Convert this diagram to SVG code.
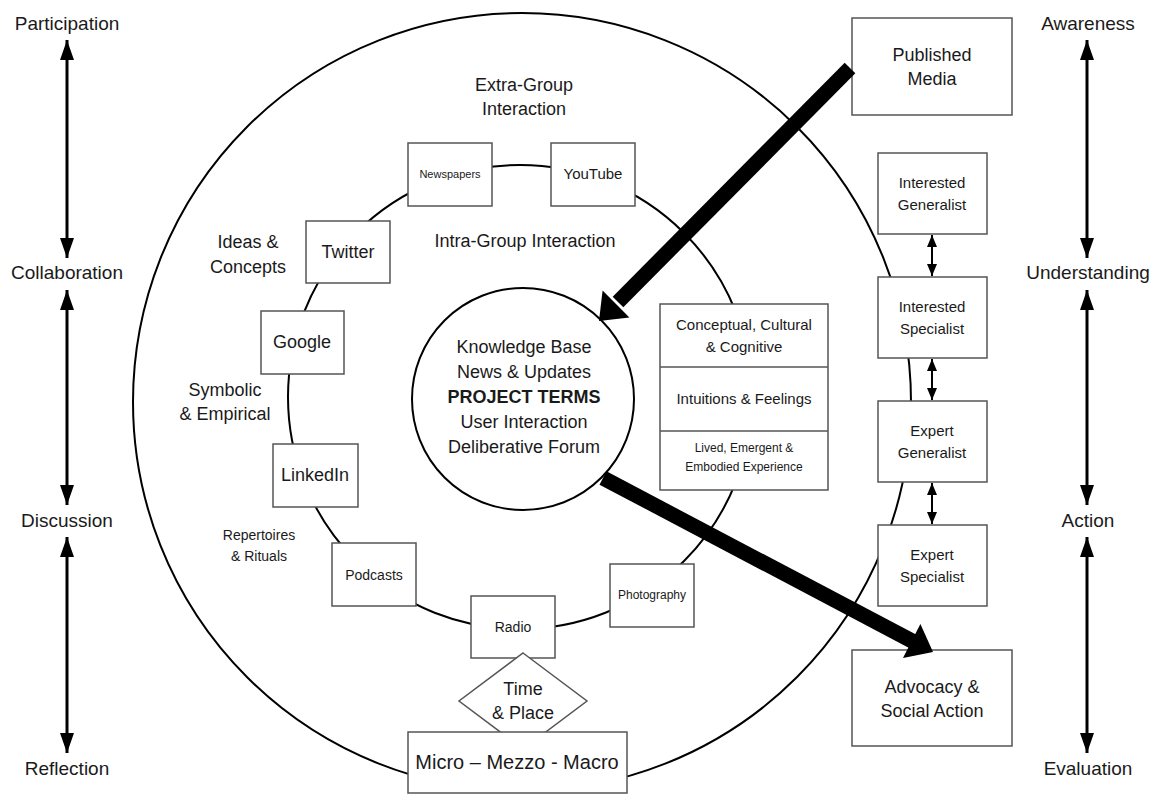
<svg xmlns="http://www.w3.org/2000/svg" width="1158" height="794" viewBox="0 0 1158 794">
<style>
text{font-family:"Liberation Sans",Arial,sans-serif;fill:#1a1a1a;text-anchor:middle}
.box{fill:#fff;stroke:#555;stroke-width:1.5}
.ring{fill:none;stroke:#000;stroke-width:2}
.axis{stroke:#000;stroke-width:3;fill:none}
.sm{stroke:#000;stroke-width:2;fill:none}
.big{stroke:#000;stroke-width:15;fill:none}
.f19{font-size:19px}.f18{font-size:18px}.f15{font-size:15px}.f14{font-size:14px}.f12{font-size:12px}.f11{font-size:11px}
</style>
<defs>
<marker id="ah" viewBox="0 0 20 14" refX="20" refY="7" markerWidth="20" markerHeight="14" markerUnits="userSpaceOnUse" orient="auto-start-reverse"><path d="M0,0L20,7L0,14z" fill="#000"/></marker>
<marker id="as" viewBox="0 0 12 10" refX="12" refY="5" markerWidth="12" markerHeight="10" markerUnits="userSpaceOnUse" orient="auto-start-reverse"><path d="M0,0L12,5L0,10z" fill="#000"/></marker>
</defs>
<rect width="1158" height="794" fill="#fff"/>
<g id="rings">
<circle class="ring" cx="522" cy="402" r="389"/>
<circle class="ring" cx="520" cy="397" r="232"/>
</g>
<g id="labels">
<text class="f19" x="67" y="30">Participation</text>
<text class="f19" x="67" y="279">Collaboration</text>
<text class="f19" x="67" y="527">Discussion</text>
<text class="f19" x="67" y="775">Reflection</text>
<text class="f19" x="1088" y="30">Awareness</text>
<text class="f19" x="1088" y="279">Understanding</text>
<text class="f19" x="1088" y="527">Action</text>
<text class="f19" x="1088" y="775">Evaluation</text>
<text class="f18" x="524" y="91">Extra-Group</text>
<text class="f18" x="524" y="115">Interaction</text>
<text class="f18" x="525" y="247">Intra-Group Interaction</text>
<text class="f18" x="248" y="248">Ideas &amp;</text>
<text class="f18" x="248" y="273">Concepts</text>
<text class="f18" x="225" y="396">Symbolic</text>
<text class="f18" x="225" y="420">&amp; Empirical</text>
<text class="f14" x="259" y="540">Repertoires</text>
<text class="f14" x="259" y="561">&amp; Rituals</text>
</g>
<g id="connectors">
<path class="axis" d="M67,40V258" marker-start="url(#ah)" marker-end="url(#ah)"/>
<path class="axis" d="M67,290V505" marker-start="url(#ah)" marker-end="url(#ah)"/>
<path class="axis" d="M67,537V753" marker-start="url(#ah)" marker-end="url(#ah)"/>
<path class="axis" d="M1087,40V258" marker-start="url(#ah)" marker-end="url(#ah)"/>
<path class="axis" d="M1087,290V505" marker-start="url(#ah)" marker-end="url(#ah)"/>
<path class="axis" d="M1087,537V753" marker-start="url(#ah)" marker-end="url(#ah)"/>
<path class="sm" d="M932,235V276" marker-start="url(#as)" marker-end="url(#as)"/>
<path class="sm" d="M932,359V400" marker-start="url(#as)" marker-end="url(#as)"/>
<path class="sm" d="M932,483V524" marker-start="url(#as)" marker-end="url(#as)"/>
</g>
<g id="center">
<circle cx="523" cy="399" r="111" fill="#fff" stroke="#000" stroke-width="2"/>
<text class="f18" x="524" y="353">Knowledge Base</text>
<text class="f18" x="524" y="378">News &amp; Updates</text>
<text class="f18" x="524" y="403" font-weight="bold">PROJECT TERMS</text>
<text class="f18" x="524" y="428">User Interaction</text>
<text class="f18" x="524" y="453">Deliberative Forum</text>
</g>
<g id="newspapers"><rect class="box" x="408" y="143" width="84" height="63"/><text class="f11" x="450" y="178">Newspapers</text></g>
<g id="youtube"><rect class="box" x="551" y="143" width="84" height="63"/><text class="f15" x="593" y="179">YouTube</text></g>
<g id="twitter"><rect class="box" x="306" y="221" width="84" height="62"/><text class="f18" x="348" y="258">Twitter</text></g>
<g id="google"><rect class="box" x="261" y="311" width="83" height="63"/><text class="f18" x="302" y="348">Google</text></g>
<g id="linkedin"><rect class="box" x="273" y="444" width="85" height="63"/><text class="f18" x="315" y="481">LinkedIn</text></g>
<g id="podcasts"><rect class="box" x="332" y="543" width="84" height="63"/><text class="f14" x="374" y="580">Podcasts</text></g>
<g id="radio"><rect class="box" x="471" y="596" width="84" height="62"/><text class="f14" x="513" y="632">Radio</text></g>
<g id="photography"><rect class="box" x="610" y="564" width="84" height="63"/><text class="f12" x="652" y="599">Photography</text></g>
<g id="dimensions">
<rect class="box" x="660" y="304" width="168" height="186"/>
<line x1="660" y1="367" x2="828" y2="367" stroke="#555" stroke-width="1.5"/>
<line x1="660" y1="431" x2="828" y2="431" stroke="#555" stroke-width="1.5"/>
<text class="f15" x="744" y="330">Conceptual, Cultural</text>
<text class="f15" x="744" y="352">&amp; Cognitive</text>
<text class="f15" x="744" y="404">Intuitions &amp; Feelings</text>
<text class="f12" x="744" y="452">Lived, Emergent &amp;</text>
<text class="f12" x="744" y="471">Embodied Experience</text>
</g>
<g id="time-place"><path class="box" d="M523,653L587,701L523,749L459,701Z"/><text class="f18" x="523" y="695">Time</text><text class="f18" x="523" y="719">&amp; Place</text></g>
<g id="micro-macro"><rect class="box" x="408" y="732" width="219" height="61"/><text x="517" y="769" font-size="20">Micro – Mezzo - Macro</text></g>
<g id="published-media"><rect class="box" x="852" y="18" width="160" height="97"/><text class="f18" x="932" y="61">Published</text><text class="f18" x="932" y="85">Media</text></g>
<g id="interested-generalist"><rect class="box" x="878" y="153" width="109" height="81"/><text class="f15" x="932" y="188">Interested</text><text class="f15" x="932" y="210">Generalist</text></g>
<g id="interested-specialist"><rect class="box" x="878" y="277" width="109" height="81"/><text class="f15" x="932" y="312">Interested</text><text class="f15" x="932" y="334">Specialist</text></g>
<g id="expert-generalist"><rect class="box" x="878" y="401" width="109" height="81"/><text class="f15" x="932" y="436">Expert</text><text class="f15" x="932" y="458">Generalist</text></g>
<g id="expert-specialist"><rect class="box" x="878" y="525" width="109" height="81"/><text class="f15" x="932" y="560">Expert</text><text class="f15" x="932" y="582">Specialist</text></g>
<g id="advocacy"><rect class="box" x="852" y="650" width="160" height="96"/><text class="f18" x="932" y="693">Advocacy &amp;</text><text class="f18" x="932" y="717">Social Action</text></g>
<g id="flow-arrows">
<path class="big" d="M850,68L618,302"/>
<path d="M599,321L602.6,290.6L629.4,317.4Z" fill="#000"/>
<path class="big" d="M603,478L914,642"/>
<path d="M933,652L920.4,624.1L903,657.9Z" fill="#000"/>
</g>
</svg>
